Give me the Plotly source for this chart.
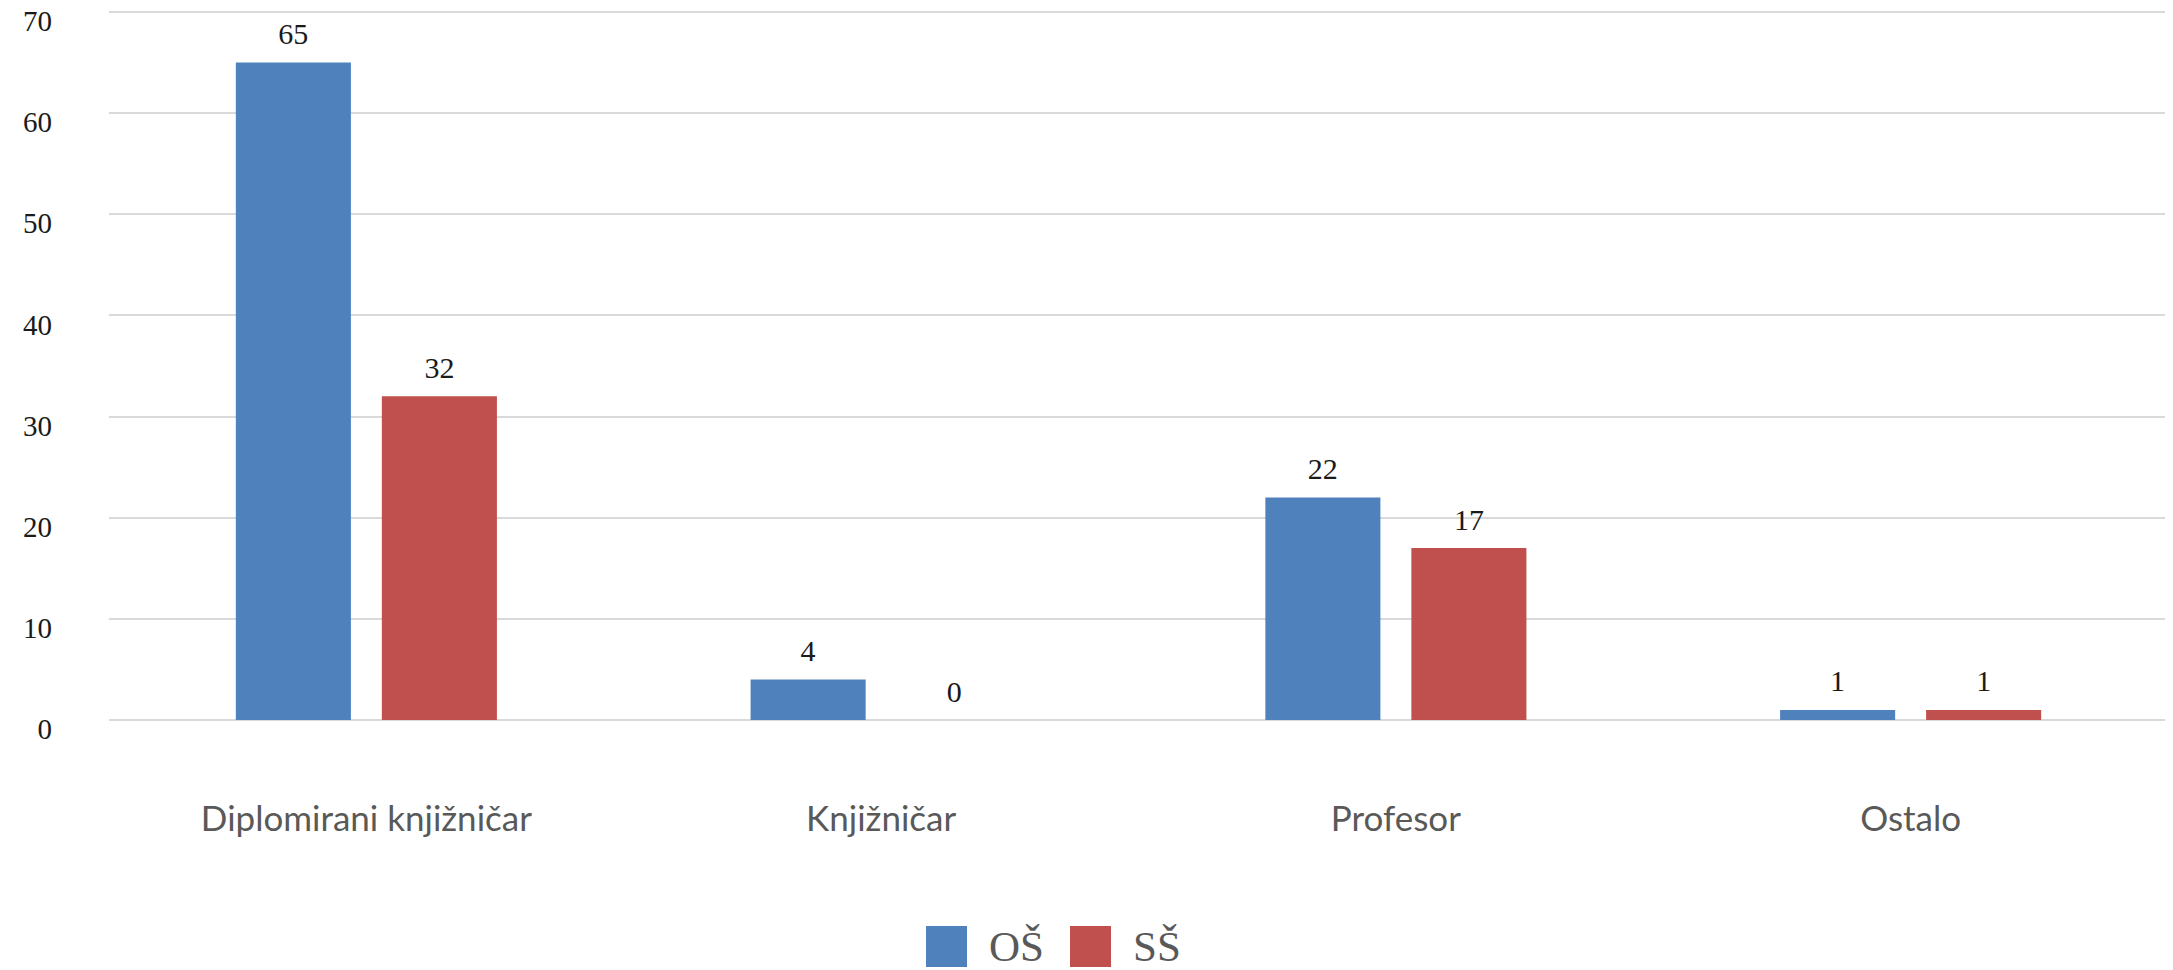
import plotly.graph_objects as go

categories = ["Diplomirani knjižničar", "Knjižničar", "Profesor", "Ostalo"]
series_names = ["OŠ", "SŠ"]
os_values = [65, 4, 22, 1]
ss_values = [32, 0, 17, 1]
series_colors = ["#4F81BD", "#C0504D"]
y_ticks = [0, 10, 20, 30, 40, 50, 60, 70]

# page body has an 8px default margin; build the figure to fit inside the window
BODY = 8
W, H = 2173 - BODY, 970 - BODY
ML, MR, MT, MB = 109 - BODY, 5, 9 - BODY, 250
PW, PH = W - ML - MR, H - MT - MB
Y_MAX = 70.3


def px_x(p):
    # p: pixel x in the final page
    return (p - BODY - ML) / PW


def px_y(p):
    # p: pixel y in the final page
    return (H - MB - (p - BODY)) / PH


fig = go.Figure()
for i, (name, vals, col) in enumerate(zip(series_names, [os_values, ss_values], series_colors)):
    fig.add_trace(go.Bar(
        x=categories, y=vals, name=name,
        marker=dict(color=col, line=dict(width=0)),
        offsetgroup=str(i), alignmentgroup="a",
        showlegend=False, hoverinfo="x+y+name",
    ))
for i, (name, vals) in enumerate(zip(series_names, [os_values, ss_values])):
    fig.add_trace(go.Scatter(
        x=categories, y=vals, name=name, mode="markers+text",
        marker=dict(size=16, opacity=0),
        text=[str(v) for v in vals], textposition="top center",
        textfont=dict(family="Liberation Serif", size=30, color="#1a1a1a"),
        offsetgroup=str(i), alignmentgroup="a",
        cliponaxis=False, showlegend=False, hoverinfo="skip",
    ))

# custom legend (large square swatches)
shapes = []
annotations = []
legend_items = [(926, 987), (1070, 1131)]
for (sx, tx), name, col in zip(legend_items, series_names, series_colors):
    shapes.append(dict(type="rect", xref="paper", yref="paper",
                       x0=px_x(sx), x1=px_x(sx + 41), y0=px_y(926), y1=px_y(967),
                       fillcolor=col, line=dict(width=0)))
    annotations.append(dict(xref="paper", yref="paper", x=px_x(tx), y=px_y(946),
                            text=name, showarrow=False, xanchor="left", yanchor="middle",
                            font=dict(family="Liberation Serif", size=43, color="#595959")))

# left chart border
shapes.append(dict(type="line", xref="paper", yref="paper",
                   x0=px_x(2), x1=px_x(2), y0=px_y(0), y1=px_y(970),
                   line=dict(color="#D9D9D9", width=2)))

fig.update_layout(
    width=W, height=H,
    margin=dict(l=ML, r=MR, t=MT, b=MB),
    paper_bgcolor="white", plot_bgcolor="white",
    barmode="group", bargap=0.4327, bargroupgap=0.212,
    scattermode="group", scattergap=0.4327,
    showlegend=False,
    shapes=shapes, annotations=annotations,
    xaxis=dict(
        showgrid=False, showline=False, zeroline=False, ticks="",
        tickfont=dict(family="Lato", size=35, color="#595959"),
        ticklabelstandoff=75, automargin=False,
    ),
    yaxis=dict(
        range=[0, Y_MAX], tickvals=y_ticks,
        showgrid=True, gridcolor="#D9D9D9", gridwidth=2,
        zeroline=True, zerolinecolor="#D9D9D9", zerolinewidth=2,
        showline=False, ticks="", ticklabeloverflow="allow",
        tickfont=dict(family="Liberation Serif", size=29, color="#1a1a1a"),
        ticklabelstandoff=56, ticklabelshift=9, automargin=False,
    ),
)

fig.write_html("out.html")
